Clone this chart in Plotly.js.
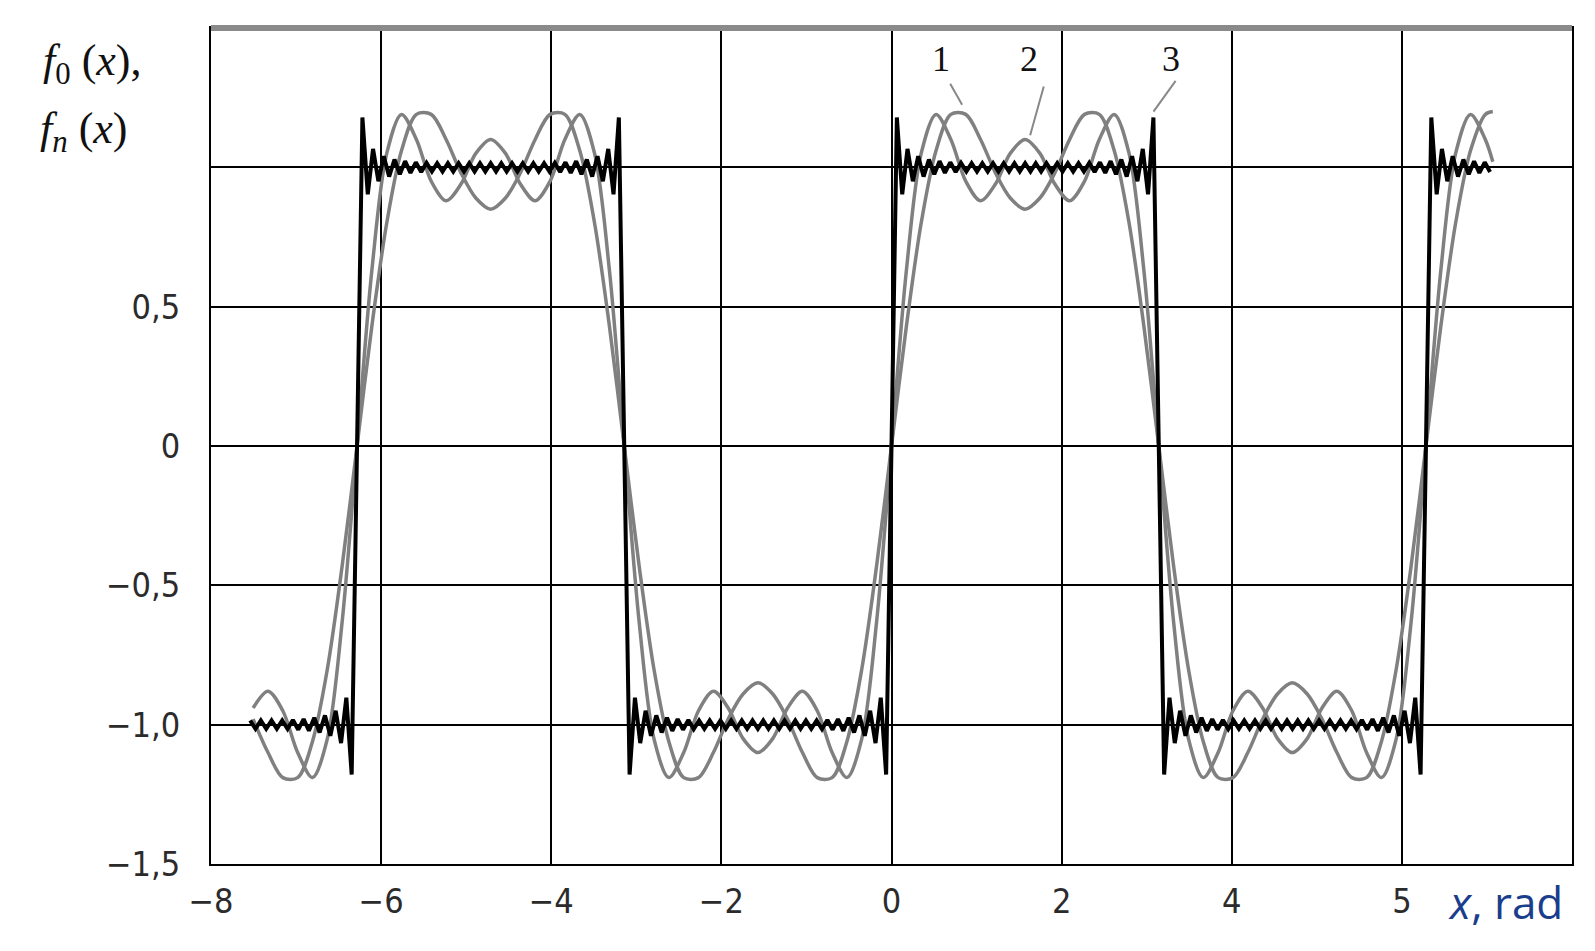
<!DOCTYPE html>
<html>
<head>
<meta charset="utf-8">
<script src="https://cdn.plot.ly/plotly-3.0.1.min.js"></script>
<style>
  html, body { margin: 0; padding: 0; background: #fff; }
  #chart { width: 1595px; height: 951px; }
</style>
</head>
<body>
<div id="chart"></div>
<script>
const xSmooth = [-7.505, -7.330, -7.156, -6.981, -6.807, -6.632, -6.458, -6.283, -6.109, -5.934,
  -5.760, -5.585, -5.411, -5.236, -5.061, -4.887, -4.712, -4.538, -4.363, -4.189,
  -4.014, -3.840, -3.665, -3.491, -3.316, -3.142, -2.967, -2.793, -2.618, -2.443,
  -2.269, -2.094, -1.920, -1.745, -1.571, -1.396, -1.222, -1.047, -0.873, -0.698,
  -0.524, -0.349, -0.175, 0, 0.175, 0.349, 0.524, 0.698, 0.873, 1.047,
  1.222, 1.396, 1.571, 1.745, 1.920, 2.094, 2.269, 2.443, 2.618, 2.793,
  2.967, 3.142, 3.316, 3.491, 3.665, 3.840, 4.014, 4.189, 4.363, 4.538,
  4.712, 4.887, 5.061, 5.236, 5.411, 5.585, 5.760, 5.934, 6.109, 6.283,
  6.458, 6.632, 6.807, 6.981, 7.069];

// curve 1 (gray)
const curve1 = [-0.98, -1.10, -1.19, -1.19, -1.06, -0.80, -0.43, 0,
  0.43, 0.80, 1.06, 1.19, 1.19, 1.10, 0.98, 0.89, 0.85, 0.89, 0.98, 1.10, 1.19, 1.19, 1.06, 0.80, 0.43, 0,
  -0.43, -0.80, -1.06, -1.19, -1.19, -1.10, -0.98, -0.89, -0.85, -0.89, -0.98, -1.10, -1.19, -1.19, -1.06, -0.80, -0.43, 0,
  0.43, 0.80, 1.06, 1.19, 1.19, 1.10, 0.98, 0.89, 0.85, 0.89, 0.98, 1.10, 1.19, 1.19, 1.06, 0.80, 0.43, 0,
  -0.43, -0.80, -1.06, -1.19, -1.19, -1.10, -0.98, -0.89, -0.85, -0.89, -0.98, -1.10, -1.19, -1.19, -1.06, -0.80, -0.43, 0,
  0.43, 0.80, 1.06, 1.19, 1.20];

// curve 2 (gray)
const curve2 = [-0.94, -0.88, -0.95, -1.10, -1.19, -1.05, -0.63, 0,
  0.63, 1.05, 1.19, 1.10, 0.95, 0.88, 0.94, 1.05, 1.10, 1.05, 0.94, 0.88, 0.95, 1.10, 1.19, 1.05, 0.63, 0,
  -0.63, -1.05, -1.19, -1.10, -0.95, -0.88, -0.94, -1.05, -1.10, -1.05, -0.94, -0.88, -0.95, -1.10, -1.19, -1.05, -0.63, 0,
  0.63, 1.05, 1.19, 1.10, 0.95, 0.88, 0.94, 1.05, 1.10, 1.05, 0.94, 0.88, 0.95, 1.10, 1.19, 1.05, 0.63, 0,
  -0.63, -1.05, -1.19, -1.10, -0.95, -0.88, -0.94, -1.05, -1.10, -1.05, -0.94, -0.88, -0.95, -1.10, -1.19, -1.05, -0.63, 0,
  0.63, 1.05, 1.19, 1.10, 1.02];

// curve 3 (black, many terms): ripple extremes read along the band, Gibbs spikes at the jumps
const x3 = [
  -7.540, -7.477, -7.414, -7.351, -7.288, -7.226, -7.163, -7.100, -7.037, -6.974, -6.911, -6.849,
  -6.786, -6.723, -6.660, -6.597, -6.534, -6.471, -6.409, -6.346, -6.283, -6.220, -6.157, -6.095, -6.032, -5.969, -5.906, -5.843, -5.780,
  -5.718, -5.655, -5.592, -5.529, -5.466, -5.403, -5.341, -5.278, -5.215, -5.152, -5.089, -5.026, -4.964, -4.901, -4.838, -4.775, -4.712,
  -4.649, -4.587, -4.524, -4.461, -4.398, -4.335, -4.272, -4.210, -4.147, -4.084, -4.021, -3.958, -3.895, -3.833, -3.770, -3.707,
  -3.645, -3.582, -3.519, -3.456, -3.393, -3.330, -3.268, -3.205, -3.142, -3.079, -3.016, -2.954, -2.891, -2.828, -2.765, -2.702, -2.639,
  -2.577, -2.514, -2.451, -2.388, -2.325, -2.262, -2.200, -2.137, -2.074, -2.011, -1.948, -1.885, -1.823, -1.760, -1.697, -1.634, -1.571,
  -1.508, -1.446, -1.383, -1.320, -1.257, -1.194, -1.131, -1.069, -1.006, -0.943, -0.880, -0.817, -0.754, -0.692, -0.629, -0.566,
  -0.503, -0.440, -0.377, -0.314, -0.251, -0.188, -0.126, -0.063, 0, 0.063, 0.126, 0.188, 0.251, 0.314, 0.377, 0.440, 0.503,
  0.565, 0.628, 0.691, 0.754, 0.817, 0.880, 0.942, 1.005, 1.068, 1.131, 1.194, 1.257, 1.319, 1.382, 1.445, 1.508, 1.571,
  1.634, 1.696, 1.759, 1.822, 1.885, 1.948, 2.011, 2.073, 2.136, 2.199, 2.262, 2.325, 2.388, 2.450, 2.513, 2.576,
  2.639, 2.702, 2.765, 2.828, 2.891, 2.954, 3.016, 3.079, 3.142, 3.205, 3.268, 3.330, 3.393, 3.456, 3.519, 3.582, 3.645,
  3.707, 3.770, 3.833, 3.896, 3.959, 4.022, 4.084, 4.147, 4.210, 4.273, 4.336, 4.399, 4.461, 4.524, 4.587, 4.650, 4.713,
  4.776, 4.838, 4.901, 4.964, 5.027, 5.090, 5.153, 5.215, 5.278, 5.341, 5.404, 5.467, 5.530, 5.592, 5.655, 5.718,
  5.780, 5.843, 5.906, 5.969, 6.032, 6.095, 6.157, 6.220, 6.283, 6.346, 6.409, 6.471, 6.534, 6.597, 6.660, 6.723, 6.786,
  6.849, 6.911, 6.974, 7.037];
const curve3 = [
  -0.985, -1.015, -0.985, -1.015, -0.985, -1.015, -0.985, -1.015, -0.983, -1.018, -0.980, -1.022,
  -0.975, -1.028, -0.967, -1.040, -0.950, -1.066, -0.903, -1.179, 0, 1.179, 0.903, 1.066, 0.950, 1.040, 0.967, 1.028, 0.975,
  1.022, 0.980, 1.018, 0.983, 1.016, 0.985, 1.015, 0.985, 1.015, 0.985, 1.015, 0.985, 1.015, 0.985, 1.015, 0.985, 1.015,
  0.985, 1.015, 0.985, 1.015, 0.985, 1.015, 0.985, 1.015, 0.985, 1.015, 0.985, 1.016, 0.983, 1.018, 0.980, 1.022,
  0.975, 1.028, 0.967, 1.040, 0.950, 1.066, 0.903, 1.179, 0, -1.179, -0.903, -1.066, -0.950, -1.040, -0.967, -1.028, -0.975,
  -1.022, -0.980, -1.018, -0.983, -1.016, -0.985, -1.015, -0.985, -1.015, -0.985, -1.015, -0.985, -1.015, -0.985, -1.015, -0.985, -1.015,
  -0.985, -1.015, -0.985, -1.015, -0.985, -1.015, -0.985, -1.015, -0.985, -1.015, -0.985, -1.016, -0.983, -1.018, -0.980, -1.022,
  -0.975, -1.028, -0.967, -1.040, -0.950, -1.066, -0.903, -1.179, 0, 1.179, 0.903, 1.066, 0.950, 1.040, 0.967, 1.028, 0.975,
  1.022, 0.980, 1.018, 0.983, 1.016, 0.985, 1.015, 0.985, 1.015, 0.985, 1.015, 0.985, 1.015, 0.985, 1.015, 0.985, 1.015,
  0.985, 1.015, 0.985, 1.015, 0.985, 1.015, 0.985, 1.015, 0.985, 1.015, 0.985, 1.016, 0.983, 1.018, 0.980, 1.022,
  0.975, 1.028, 0.967, 1.040, 0.950, 1.066, 0.903, 1.179, 0, -1.179, -0.903, -1.066, -0.950, -1.040, -0.967, -1.028, -0.975,
  -1.022, -0.980, -1.018, -0.983, -1.016, -0.985, -1.015, -0.985, -1.015, -0.985, -1.015, -0.985, -1.015, -0.985, -1.015, -0.985, -1.015,
  -0.985, -1.015, -0.985, -1.015, -0.985, -1.015, -0.985, -1.015, -0.985, -1.015, -0.985, -1.016, -0.983, -1.018, -0.980, -1.022,
  -0.975, -1.028, -0.967, -1.040, -0.950, -1.066, -0.903, -1.179, 0, 1.179, 0.903, 1.066, 0.950, 1.040, 0.967, 1.028, 0.975,
  1.022, 0.980, 1.018, 0.983];

// ticks
const xTickVals = [-8, -6, -4, -2, 0, 2, 4, 6, 8];
const xTickText = ['\u22128', '\u22126', '\u22124', '\u22122', '0', '2', '4', '5', ''];
const yTickVals = [1.5, 1, 0.5, 0, -0.5, -1, -1.5];
const yTickText = ['', '', '0,5', '0', '\u22120,5', '\u22121,0', '\u22121,5'];

// curve labels
const labelText = ['1', '2', '3'];
const labelX = [0.585, 1.62, 3.28];
const labelY = [1.39, 1.39, 1.39];

const tickFontFamily = '"DejaVu Sans Condensed", "Liberation Sans Narrow", "Liberation Sans", sans-serif';
const serif = '"Liberation Serif", "DejaVu Serif", serif';

const traces = [
  { x: xSmooth, y: curve1, mode: 'lines', line: { color: '#808080', width: 3.5, shape: 'spline', smoothing: 0.9 }, hoverinfo: 'skip' },
  { x: xSmooth, y: curve2, mode: 'lines', line: { color: '#808080', width: 3.5, shape: 'spline', smoothing: 0.9 }, hoverinfo: 'skip' },
  { x: x3, y: curve3, mode: 'lines', line: { color: '#000000', width: 4 }, hoverinfo: 'skip' }
];

const annotations = [
  { xref: 'paper', yref: 'paper', x: -0.125, y: 0.958, xanchor: 'left', yanchor: 'middle', showarrow: false,
    text: '<i>f</i><sub>0</sub> (<i>x</i>),', font: { family: serif, size: 44, color: '#111' } },
  { xref: 'paper', yref: 'paper', x: -0.127, y: 0.876, xanchor: 'left', yanchor: 'middle', showarrow: false,
    text: '<i>f</i><sub><i>n</i></sub> (<i>x</i>)', font: { family: serif, size: 44, color: '#111' } },
  { xref: 'paper', yref: 'paper', x: 0.951, y: -0.045, xanchor: 'center', yanchor: 'middle', showarrow: false,
    text: '<i>x</i>, rad', font: { family: '"Open Sans", "Noto Sans", sans-serif', size: 44, color: '#1a3d8c' } }
];
for (let i = 0; i < labelText.length; i++) {
  annotations.push({ xref: 'x', yref: 'y', x: labelX[i], y: labelY[i], showarrow: false, text: labelText[i],
    font: { family: serif, size: 36, color: '#111' } });
}

const shapes = [
  { type: 'line', xref: 'paper', yref: 'paper', x0: 0, x1: 1, y0: 1, y1: 1, line: { color: '#8a8a8a', width: 6 } },
  { type: 'line', xref: 'x', yref: 'y', x0: 0.69, y0: 1.30, x1: 0.83, y1: 1.225, line: { color: '#888', width: 2 } },
  { type: 'line', xref: 'x', yref: 'y', x0: 1.79, y0: 1.29, x1: 1.63, y1: 1.115, line: { color: '#888', width: 2 } },
  { type: 'line', xref: 'x', yref: 'y', x0: 3.34, y0: 1.31, x1: 3.08, y1: 1.20, line: { color: '#888', width: 2 } }
];

const layout = {
  width: 1595, height: 951,
  margin: { l: 211, r: 23, t: 28, b: 87 },
  paper_bgcolor: '#ffffff', plot_bgcolor: '#ffffff',
  showlegend: false,
  xaxis: {
    range: [-8, 8], tickmode: 'array', tickvals: xTickVals, ticktext: xTickText,
    showgrid: true, gridcolor: '#000', gridwidth: 2, zeroline: false,
    showline: true, linecolor: '#000', linewidth: 2, mirror: true, ticks: '',
    ticklabelstandoff: 6,
    tickfont: { family: tickFontFamily, size: 34, color: '#2b2b2b' }
  },
  yaxis: {
    range: [-1.5, 1.5], tickmode: 'array', tickvals: yTickVals, ticktext: yTickText,
    showgrid: true, gridcolor: '#000', gridwidth: 2, zeroline: false,
    showline: true, linecolor: '#000', linewidth: 2, mirror: true, ticks: '',
    ticklabelstandoff: 22,
    tickfont: { family: tickFontFamily, size: 34, color: '#2b2b2b' }
  },
  annotations: annotations,
  shapes: shapes
};

Plotly.newPlot('chart', traces, layout, { displayModeBar: false, staticPlot: true });
</script>
</body>
</html>
